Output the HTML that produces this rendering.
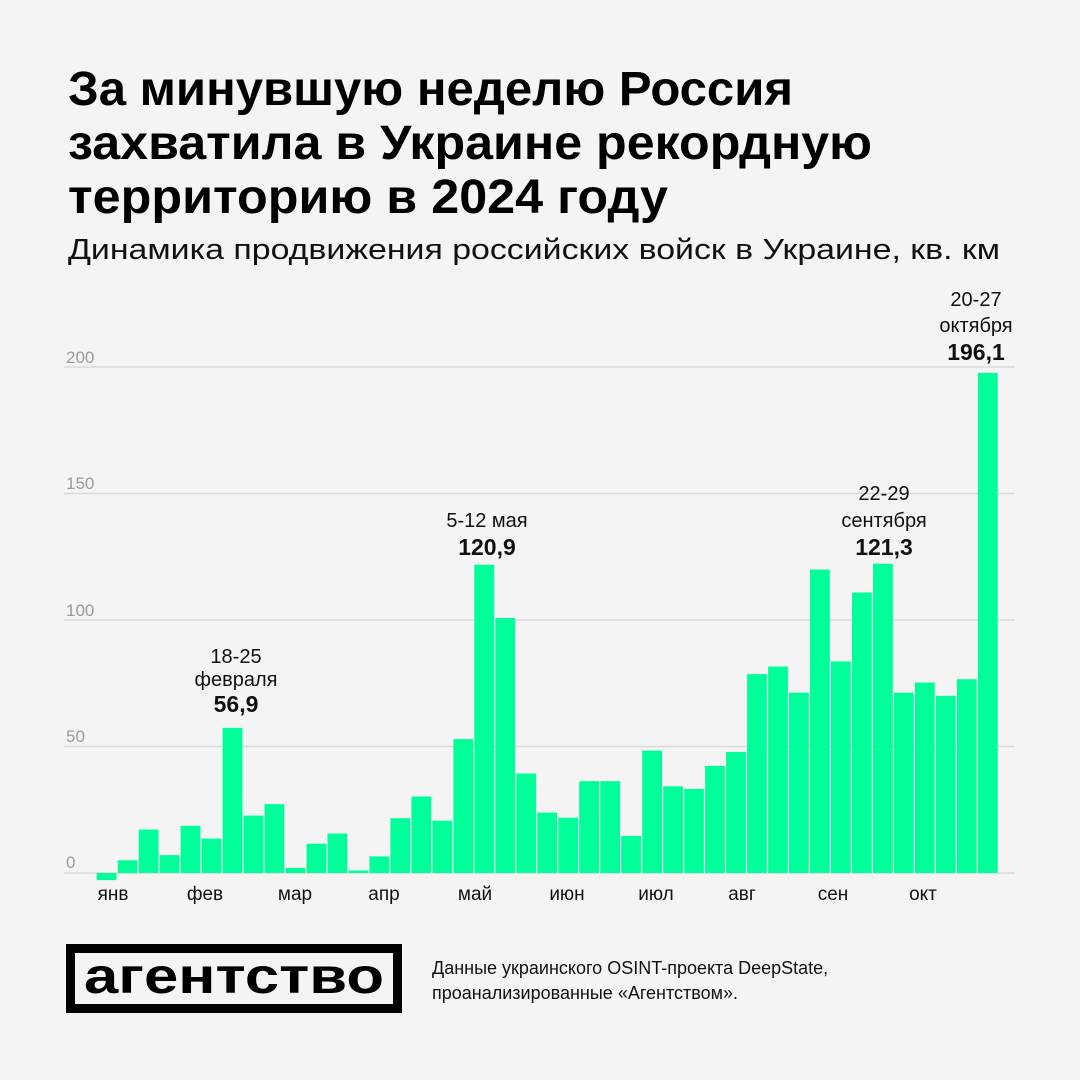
<!DOCTYPE html>
<html><head><meta charset="utf-8"><style>
html,body{margin:0;padding:0;background:#f4f4f4}
svg{display:block}
text{font-family:"Liberation Sans","DejaVu Sans",sans-serif}
</style></head><body>
<svg width="1080" height="1080" viewBox="0 0 1080 1080" xmlns="http://www.w3.org/2000/svg">
<rect width="1080" height="1080" fill="#f4f4f4"/>
<g font-weight="bold" font-size="48" fill="#000">
<text x="68" y="105" textLength="725" lengthAdjust="spacingAndGlyphs">За минувшую неделю Россия</text>
<text x="68" y="159" textLength="804" lengthAdjust="spacingAndGlyphs">захватила в Украине рекордную</text>
<text x="68" y="213" textLength="600" lengthAdjust="spacingAndGlyphs">территорию в 2024 году</text>
</g>
<text x="68" y="259" font-size="29" fill="#111" textLength="932" lengthAdjust="spacingAndGlyphs">Динамика продвижения российских войск в Украине, кв. км</text>
<g stroke="#d9d9d9" stroke-width="1.5">
<line x1="64" y1="367" x2="1015" y2="367"/>
<line x1="64" y1="493.5" x2="1015" y2="493.5"/>
<line x1="64" y1="620" x2="1015" y2="620"/>
<line x1="64" y1="746.5" x2="1015" y2="746.5"/>
<line x1="64" y1="873" x2="1015" y2="873"/>
</g>
<g font-size="17" fill="#9a9a9a">
<text x="66" y="363">200</text><text x="66" y="489">150</text><text x="66" y="616">100</text><text x="66" y="742">50</text><text x="66" y="868">0</text>
</g>
<g id="bars" fill="#00ff99"></g>
<g font-size="19" fill="#111" text-anchor="middle">
<text x="113" y="900">янв</text><text x="205" y="900">фев</text><text x="295" y="900">мар</text><text x="384" y="900">апр</text><text x="475" y="900">май</text><text x="567" y="900">июн</text><text x="656" y="900">июл</text><text x="742" y="900">авг</text><text x="833" y="900">сен</text><text x="923" y="900">окт</text>
</g>
<g font-size="20" fill="#111" text-anchor="middle">
<text x="236" y="663">18-25</text><text x="236" y="686">февраля</text>
<text x="236" y="712" font-size="23" font-weight="bold">56,9</text>
<text x="487" y="527">5-12 мая</text>
<text x="487" y="555" font-size="23" font-weight="bold">120,9</text>
<text x="884" y="500">22-29</text><text x="884" y="527">сентября</text>
<text x="884" y="555" font-size="23" font-weight="bold">121,3</text>
<text x="976" y="306">20-27</text><text x="976" y="332">октября</text>
<text x="976" y="360" font-size="23" font-weight="bold">196,1</text>
</g>
<rect x="70.5" y="948.5" width="327" height="60" fill="none" stroke="#000" stroke-width="9"/>
<text x="84" y="993" font-size="50" font-weight="bold" fill="#000" textLength="300" lengthAdjust="spacingAndGlyphs">агентство</text>
<g font-size="18" fill="#111">
<text x="432" y="974">Данные украинского OSINT-проекта DeepState,</text>
<text x="432" y="999">проанализированные «Агентством».</text>
</g>
</svg>
<script>
var v=[-2.8,5,17,7,18.5,13.5,56.9,22.5,27,2,11.5,15.5,1,6.5,21.5,30,20.5,52.5,120.9,100,39,23.7,21.7,36,36,14.5,48,34,33,42,47.5,78,81,70.7,119,83,110,121.3,70.7,74.7,69.5,76,196.1];
var g=document.getElementById('bars'),s='',x0=96.7,p=20.98,k=2.55;
for(var i=0;i<v.length;i++){var h=v[i]*k,x=x0+i*p;var y=h>=0?873-h:873;s+='<rect x="'+x.toFixed(1)+'" y="'+y.toFixed(1)+'" width="'+(p-1.2).toFixed(1)+'" height="'+Math.abs(h).toFixed(1)+'"/>';}
g.innerHTML=s;
</script>
</body></html>
